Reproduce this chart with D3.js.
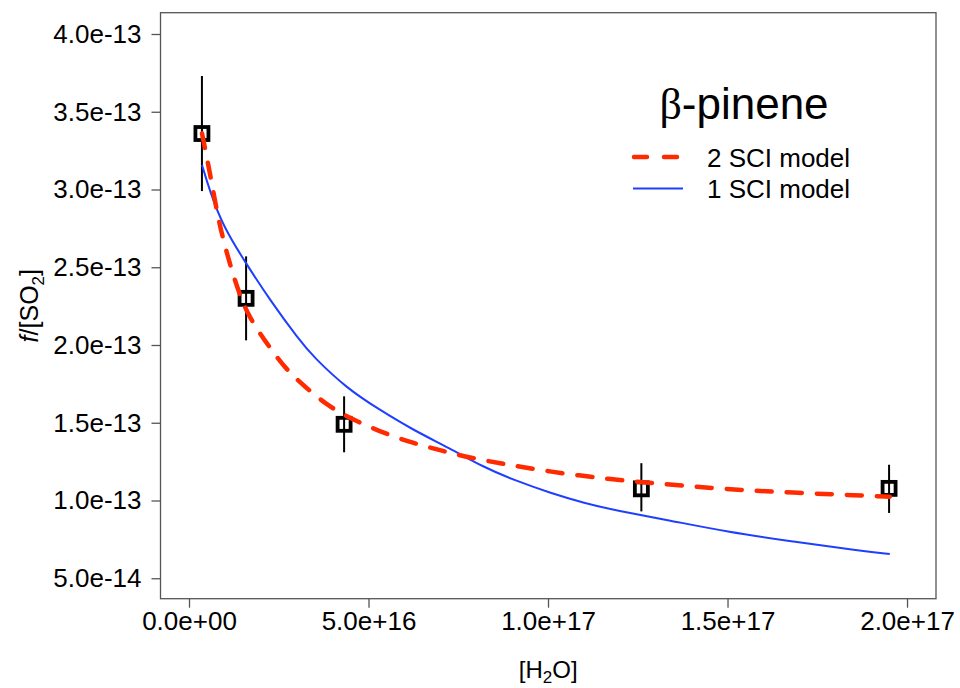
<!DOCTYPE html>
<html>
<head>
<meta charset="utf-8">
<script src="https://cdn.jsdelivr.net/npm/d3@7"></script>
<style>
  body { margin: 0; background: #fff; }
  svg text { font-family: "Liberation Sans", Arial, sans-serif; fill: #000; }
</style>
</head>
<body>
<main></main>
<script>
// measured points
const h2o = [3.6e15, 1.59e16, 4.32e16, 1.26e17, 1.95e17];
const ratio = [3.36e-13, 2.30e-13, 1.49e-13, 1.075e-13, 1.078e-13];
const errHigh = [3.73e-13, 2.57e-13, 1.67e-13, 1.24e-13, 1.23e-13];
const errLow = [2.99e-13, 2.03e-13, 1.31e-13, 0.93e-13, 0.92e-13];

// 2 SCI model (red dashed)
const twoSciX = [0.362e16, 0.585e16, 0.816e16, 1.05e16, 1.328e16, 1.651e16, 2.255e16, 2.72e16, 3.229e16, 3.834e16,
  4.482e16, 5.317e16, 6.245e16, 6.988e16, 7.592e16, 8.658e16, 10.05e16, 11.72e16, 13.11e16, 14.97e16,
  16.82e16, 18.68e16, 19.52e16];
const twoSciY = [3.361e-13, 3.106e-13, 2.804e-13, 2.592e-13, 2.375e-13, 2.182e-13, 1.981e-13, 1.839e-13, 1.732e-13, 1.614e-13,
  1.529e-13, 1.443e-13, 1.368e-13, 1.325e-13, 1.286e-13, 1.239e-13, 1.185e-13, 1.136e-13, 1.108e-13, 1.072e-13,
  1.050e-13, 1.033e-13, 1.024e-13];

// 1 SCI model (blue)
const oneSciX = [0.362e16, 0.585e16, 0.955e16, 1.587e16, 2.255e16, 3.071e16, 3.46e16, 4.39e16, 5.317e16, 6.245e16,
  7.266e16, 8.193e16, 9.123e16, 10.05e16, 10.98e16, 11.91e16, 13.39e16, 14.97e16, 16.82e16, 18.68e16, 19.52e16];
const oneSciY = [3.158e-13, 2.986e-13, 2.761e-13, 2.525e-13, 2.289e-13, 2.032e-13, 1.925e-13, 1.722e-13, 1.582e-13, 1.453e-13,
  1.336e-13, 1.215e-13, 1.125e-13, 1.05e-13, 0.985e-13, 0.935e-13, 0.872e-13, 0.799e-13, 0.735e-13, 0.677e-13, 0.656e-13];

const xTicks = [0, 5e16, 1e17, 1.5e17, 2e17];
const xTickLabels = ["0.0e+00", "5.0e+16", "1.0e+17", "1.5e+17", "2.0e+17"];
const yTicks = [0.5e-13, 1.0e-13, 1.5e-13, 2.0e-13, 2.5e-13, 3.0e-13, 3.5e-13, 4.0e-13];
const yTickLabels = ["5.0e-14", "1.0e-13", "1.5e-13", "2.0e-13", "2.5e-13", "3.0e-13", "3.5e-13", "4.0e-13"];

const legendNames = ["2 SCI model", "1 SCI model"];

const size = { width: 960, height: 688 };
const box = { left: 160.5, right: 936, top: 12.7, bottom: 598.7 };

const svg = d3.select('main')
  .append('svg')
  .attr('width', size.width)
  .attr('height', size.height);

const x = d3.scaleLinear()
  .domain([-0.794e16, 20.807e16])
  .range([box.left, box.right]);

const y = d3.scaleLinear()
  .domain([0.3685e-13, 4.137e-13])
  .range([box.bottom, box.top]);

// axes
const xAxis = d3.axisBottom(x)
  .tickValues(xTicks)
  .tickFormat((d, i) => xTickLabels[i])
  .tickSize(9)
  .tickPadding(4)
  .tickSizeOuter(0);

const yAxis = d3.axisLeft(y)
  .tickValues(yTicks)
  .tickFormat((d, i) => yTickLabels[i])
  .tickSize(9)
  .tickPadding(10)
  .tickSizeOuter(0);

const gx = svg.append('g')
  .attr('transform', `translate(0,${box.bottom})`)
  .call(xAxis);
const gy = svg.append('g')
  .attr('transform', `translate(${box.left},0)`)
  .call(yAxis);

[gx, gy].forEach(g => {
  g.select('.domain').remove();
  g.selectAll('line').attr('stroke', '#555').attr('stroke-width', 1.3);
  g.selectAll('text')
    .attr('font-family', '"Liberation Sans", Arial, sans-serif')
    .attr('font-size', 26)
    .attr('fill', '#000');
});

// plot frame
svg.append('rect')
  .attr('x', box.left)
  .attr('y', box.top)
  .attr('width', box.right - box.left)
  .attr('height', box.bottom - box.top)
  .attr('fill', 'none')
  .attr('stroke', '#555')
  .attr('stroke-width', 1.3);

// axis titles
const xt = svg.append('text')
  .attr('x', (box.left + box.right) / 2)
  .attr('y', 678)
  .attr('text-anchor', 'middle')
  .attr('font-size', 24);
xt.append('tspan').text('[H');
xt.append('tspan').attr('font-size', 17).attr('dy', 5).text('2');
xt.append('tspan').attr('dy', -5).text('O]');

const yt = svg.append('text')
  .attr('transform', `translate(38,${(box.top + box.bottom) / 2}) rotate(-90)`)
  .attr('text-anchor', 'middle')
  .attr('font-size', 25);
yt.append('tspan').attr('font-style', 'italic').text('f');
yt.append('tspan').text('/[SO');
yt.append('tspan').attr('font-size', 17).attr('dy', 6).text('2');
yt.append('tspan').attr('dy', -6).text(']');

// error bars
const points = h2o.map((d, i) => ({ x: d, y: ratio[i], hi: errHigh[i], lo: errLow[i] }));

svg.append('g')
  .selectAll('line')
  .data(points)
  .enter()
  .append('line')
  .attr('x1', d => x(d.x))
  .attr('x2', d => x(d.x))
  .attr('y1', d => y(d.hi))
  .attr('y2', d => y(d.lo))
  .attr('stroke', '#000')
  .attr('stroke-width', 2);

// open squares
const sq = 13;
svg.append('g')
  .selectAll('rect')
  .data(points)
  .enter()
  .append('rect')
  .attr('x', d => x(d.x) - sq / 2)
  .attr('y', d => y(d.y) - sq / 2)
  .attr('width', sq)
  .attr('height', sq)
  .attr('fill', 'none')
  .attr('stroke', '#000')
  .attr('stroke-width', 3.8);

// model curves
const line = d3.line()
  .x(d => x(d[0]))
  .y(d => y(d[1]))
  .curve(d3.curveBasis);

svg.append('path')
  .datum(oneSciX.map((d, i) => [d, oneSciY[i]]))
  .attr('d', line)
  .attr('fill', 'none')
  .attr('stroke', '#1f3fff')
  .attr('stroke-width', 2);

svg.append('path')
  .datum(twoSciX.map((d, i) => [d, twoSciY[i]]))
  .attr('d', line)
  .attr('fill', 'none')
  .attr('stroke', '#ff2a00')
  .attr('stroke-width', 4.5)
  .attr('stroke-linecap', 'round')
  .attr('stroke-dasharray', '15 15');

// legend
const title = svg.append('text')
  .attr('x', 744)
  .attr('y', 119)
  .attr('text-anchor', 'middle')
  .attr('font-size', 44);
title.append('tspan').attr('font-family', '"Liberation Serif", serif').text('β');
title.append('tspan').text('-pinene');

const legend = svg.append('g');
legend.append('line')
  .attr('x1', 634).attr('x2', 680)
  .attr('y1', 157).attr('y2', 157)
  .attr('stroke', '#ff2a00')
  .attr('stroke-width', 4.5)
  .attr('stroke-linecap', 'round')
  .attr('stroke-dasharray', '13 17');
legend.append('line')
  .attr('x1', 633).attr('x2', 683)
  .attr('y1', 188.5).attr('y2', 188.5)
  .attr('stroke', '#1f3fff')
  .attr('stroke-width', 2);

legend.selectAll('text')
  .data(legendNames)
  .enter()
  .append('text')
  .attr('x', 707)
  .attr('y', (d, i) => 166.5 + i * 31.5)
  .attr('font-size', 26)
  .text(d => d);
</script>
</body>
</html>
